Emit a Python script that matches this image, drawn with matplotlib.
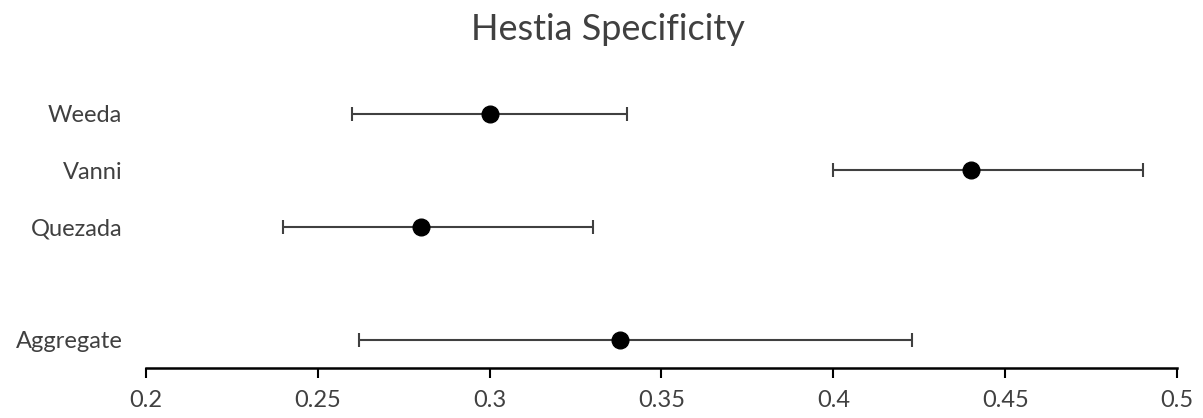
import matplotlib
matplotlib.use("Agg")
import matplotlib.pyplot as plt

categories = ["Weeda", "Vanni", "Quezada", "Aggregate"]
positions = [5, 4, 3, 1]
values = [0.30, 0.44, 0.28, 0.338]
lower = [0.26, 0.40, 0.24, 0.262]
upper = [0.34, 0.49, 0.33, 0.423]
xticks = [0.2, 0.25, 0.3, 0.35, 0.4, 0.45, 0.5]
xticklabels = ["0.2", "0.25", "0.3", "0.35", "0.4", "0.45", "0.5"]

plt.rcParams['font.family'] = ['Lato', 'DejaVu Sans']
text_col = "#404040"

fig = plt.figure(figsize=(12.03, 4.18), dpi=100)
ax = fig.add_axes([146/1203, 1 - 368/418, (1177-146)/1203, (368-85.5)/418])

xerr = [[v - l for v, l in zip(values, lower)], [u - v for v, u in zip(values, upper)]]
ax.errorbar(values, positions, xerr=xerr, fmt='o', color='black', ecolor='#404040',
            elinewidth=1.5, capsize=5, capthick=1.5, markersize=12, zorder=3)

ax.set_xlim(0.2, 0.5)
ax.set_ylim(0.5, 5.5)
ax.set_xticks(xticks)
ax.set_xticklabels(xticklabels, fontsize=17, color=text_col)
ax.set_yticks(positions)
ax.set_yticklabels(categories, fontsize=17, color=text_col)
ax.tick_params(axis='y', length=0, pad=17)
ax.tick_params(axis='x', direction='out', length=7, width=1.5, color='black', pad=9)
for s in ['top', 'right', 'left']:
    ax.spines[s].set_visible(False)
ax.spines['bottom'].set_linewidth(1.8)
ax.spines['bottom'].set_color('black')

fig.text(0.505, 1 - 29/418, "Hestia Specificity", ha='center', va='center',
         fontsize=26, color=text_col)

fig.savefig("out.png", dpi=100)
